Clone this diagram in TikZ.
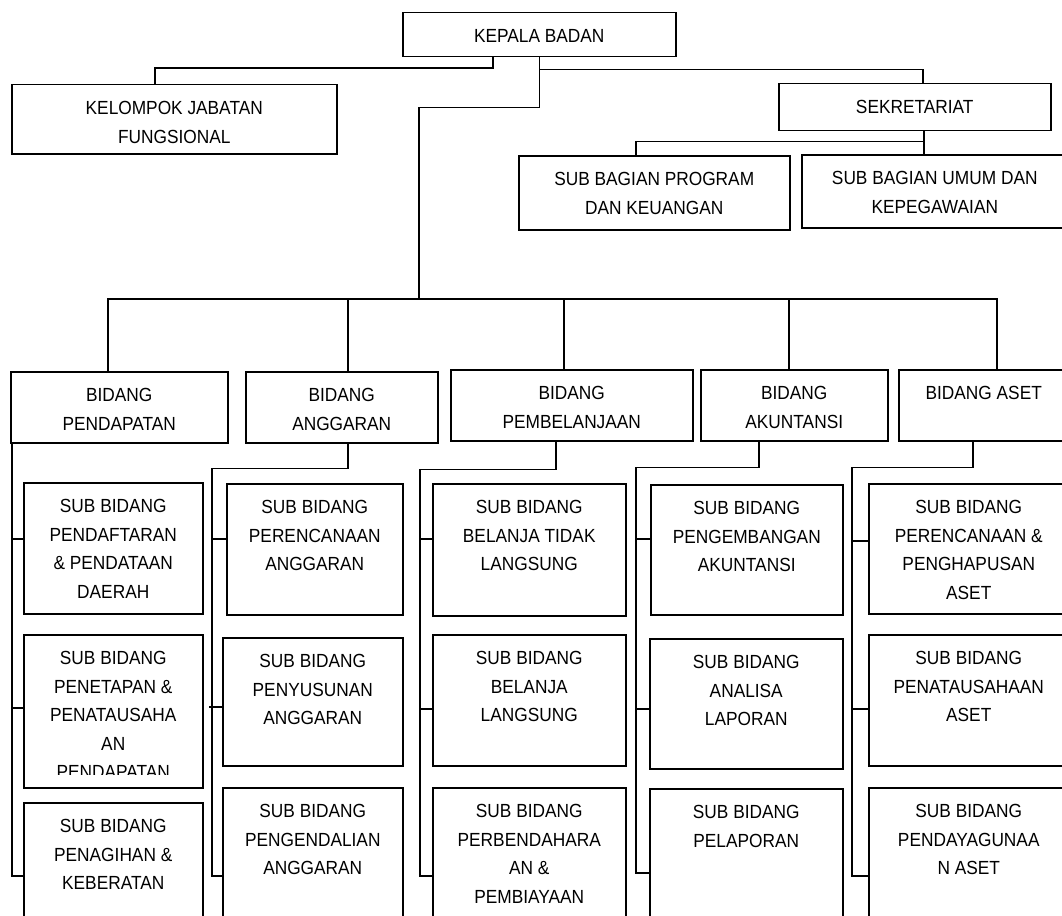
\documentclass[tikz,border=0pt]{standalone}
\usepackage{fontspec}
\setmainfont{Liberation Sans}[FakeStretch=0.91]

\newcommand{\boxtxt}[3]{\parbox[c][#2pt][t]{#1pt}{\centering\rule{0pt}{30pt}#3\par}}

\begin{document}
\begin{tikzpicture}
[x=1pt,y=-1pt
,unit/.style={draw,line width=1.5pt,inner sep=0pt,anchor=north west,font=\fontsize{19}{28.5}\selectfont}
,ln/.style={line width=1.5pt}
]
\useasboundingbox (0,0) rectangle (1062,915);
\clip (0,0) rectangle (1062,915);
% top level
\node[unit] (kepala) at (402,12) {\boxtxt{273}{44}{KEPALA BADAN}};
\node[unit] (kjf) at (11,84) {\boxtxt{325}{69}{KELOMPOK JABATAN\\FUNGSIONAL}};
\node[unit] (sek) at (778,83) {\boxtxt{272}{47}{SEKRETARIAT}};
\node[unit] (sbp) at (518,155) {\boxtxt{271}{74}{SUB BAGIAN PROGRAM\\DAN KEUANGAN}};
\node[unit] (sbu) at (801,154) {\boxtxt{266}{73}{SUB BAGIAN UMUM DAN\\KEPEGAWAIAN}};
% bidang
\node[unit] (bpend) at (10,371) {\boxtxt{217}{71}{BIDANG\\PENDAPATAN}};
\node[unit] (bangg) at (245,371) {\boxtxt{192}{71}{BIDANG\\ANGGARAN}};
\node[unit] (bpemb) at (450,369) {\boxtxt{242}{71}{BIDANG\\PEMBELANJAAN}};
\node[unit] (bakun) at (700,369) {\boxtxt{187}{71}{BIDANG\\AKUNTANSI}};
\node[unit] (baset) at (898,369) {\boxtxt{170}{71}{BIDANG ASET}};
% sub bidang
\node[unit] (s11) at (23,482) {\boxtxt{179}{131}{SUB BIDANG\\PENDAFTARAN\\\& PENDATAAN\\DAERAH}};
\node[unit] (s12) at (23,634) {\boxtxt{179}{153}{SUB BIDANG\\PENETAPAN \&\\PENATAUSAHA\\AN\\PENDAPATAN}};
\node[unit] (s13) at (23,802) {\boxtxt{179}{146}{SUB BIDANG\\PENAGIHAN \&\\KEBERATAN}};
\node[unit] (s21) at (226,483) {\boxtxt{176}{131}{SUB BIDANG\\PERENCANAAN\\ANGGARAN}};
\node[unit] (s22) at (222,637) {\boxtxt{180}{128}{SUB BIDANG\\PENYUSUNAN\\ANGGARAN}};
\node[unit] (s23) at (222,787) {\boxtxt{180}{176}{SUB BIDANG\\PENGENDALIAN\\ANGGARAN}};
\node[unit] (s31) at (432,483) {\boxtxt{193}{132}{SUB BIDANG\\BELANJA TIDAK\\LANGSUNG}};
\node[unit] (s32) at (432,634) {\boxtxt{193}{131}{SUB BIDANG\\BELANJA\\LANGSUNG}};
\node[unit] (s33) at (432,787) {\boxtxt{193}{176}{SUB BIDANG\\PERBENDAHARA\\AN \&\\PEMBIAYAAN}};
\node[unit] (s41) at (650,484) {\boxtxt{192}{130}{SUB BIDANG\\PENGEMBANGAN\\AKUNTANSI}};
\node[unit] (s42) at (649,638) {\boxtxt{193}{130}{SUB BIDANG\\ANALISA\\LAPORAN}};
\node[unit] (s43) at (649,788) {\boxtxt{193}{168}{SUB BIDANG\\PELAPORAN}};
\node[unit] (s51) at (868,483) {\boxtxt{200}{130}{SUB BIDANG\\PERENCANAAN \&\\PENGHAPUSAN\\ASET}};
\node[unit] (s52) at (868,634) {\boxtxt{200}{131}{SUB BIDANG\\PENATAUSAHAAN\\ASET}};
\node[unit] (s53) at (868,787) {\boxtxt{200}{176}{SUB BIDANG\\PENDAYAGUNAA\\N ASET}};
% cut-off last line
\fill[white] (24.5,775) rectangle (200.5,786);
% connectors from the head
\coordinate (hub) at (419,299);
\draw[ln] ([xshift=-46.5pt]kepala.south) -- ++(0,10.7) -| ([xshift=-19.5pt]kjf.north);
\draw[ln] (kepala.south) -- ++(0,12) -| ([xshift=8pt]sek.north);
\draw[ln] (kepala.south) -- ++(0,50) -| (hub);
\draw[ln] ([xshift=9pt]sek.south) -- ++(0,10) -| ([xshift=-18.5pt]sbp.north);
\draw[ln] ([xshift=9pt]sek.south) -- ([xshift=-11pt]sbu.north);
% bus
\draw[ln] ([xshift=-11.5pt]bpend.north) |- (hub);
\draw[ln] ([xshift=6pt]bangg.north) |- (hub);
\draw[ln] ([xshift=-8pt]bpemb.north) |- (hub);
\draw[ln] ([xshift=-5.5pt]bakun.north) |- (hub);
\draw[ln] ([xshift=13pt]baset.north) |- (hub);
% columns
\draw[ln] ([xshift=2pt]bpend.south west) |- (s13.west);
\draw[ln] ([yshift=9.5pt]s11.west) -- ++(-11,0);
\draw[ln] ([yshift=3.5pt]s12.west) -- ++(-11,0);
\draw[ln] ([xshift=6pt]bangg.south) -- ++(0,25) -| ([xshift=-10pt]s23.west) -- (s23.west);
\draw[ln] ([yshift=10.5pt]s21.west) -- ++(-14,0);
\draw[ln] ([yshift=-5pt]s22.west) -- ++(-13,0);
\draw[ln] ([xshift=-16pt]bpemb.south) -- ++(0,28) -| ([xshift=-12pt]s33.west) -- (s33.west);
\draw[ln] ([yshift=11pt]s31.west) -- ++(-12,0);
\draw[ln] ([yshift=-8.5pt]s32.west) -- ++(-12,0);
\draw[ln] ([xshift=-35.5pt]bakun.south) -- ++(0,26) -| ([xshift=-13pt]s43.west) -- (s43.west);
\draw[ln] ([yshift=11pt]s41.west) -- ++(-14,0);
\draw[ln] ([yshift=-5pt]s42.west) -- ++(-13,0);
\draw[ln] ([xshift=-11pt]baset.south) -- ++(0,26) -| ([xshift=-16pt]s53.west) -- (s53.west);
\draw[ln] ([yshift=8pt]s51.west) -- ++(-16,0);
\draw[ln] ([yshift=-8.5pt]s52.west) -- ++(-16,0);
\end{tikzpicture}
\end{document}
